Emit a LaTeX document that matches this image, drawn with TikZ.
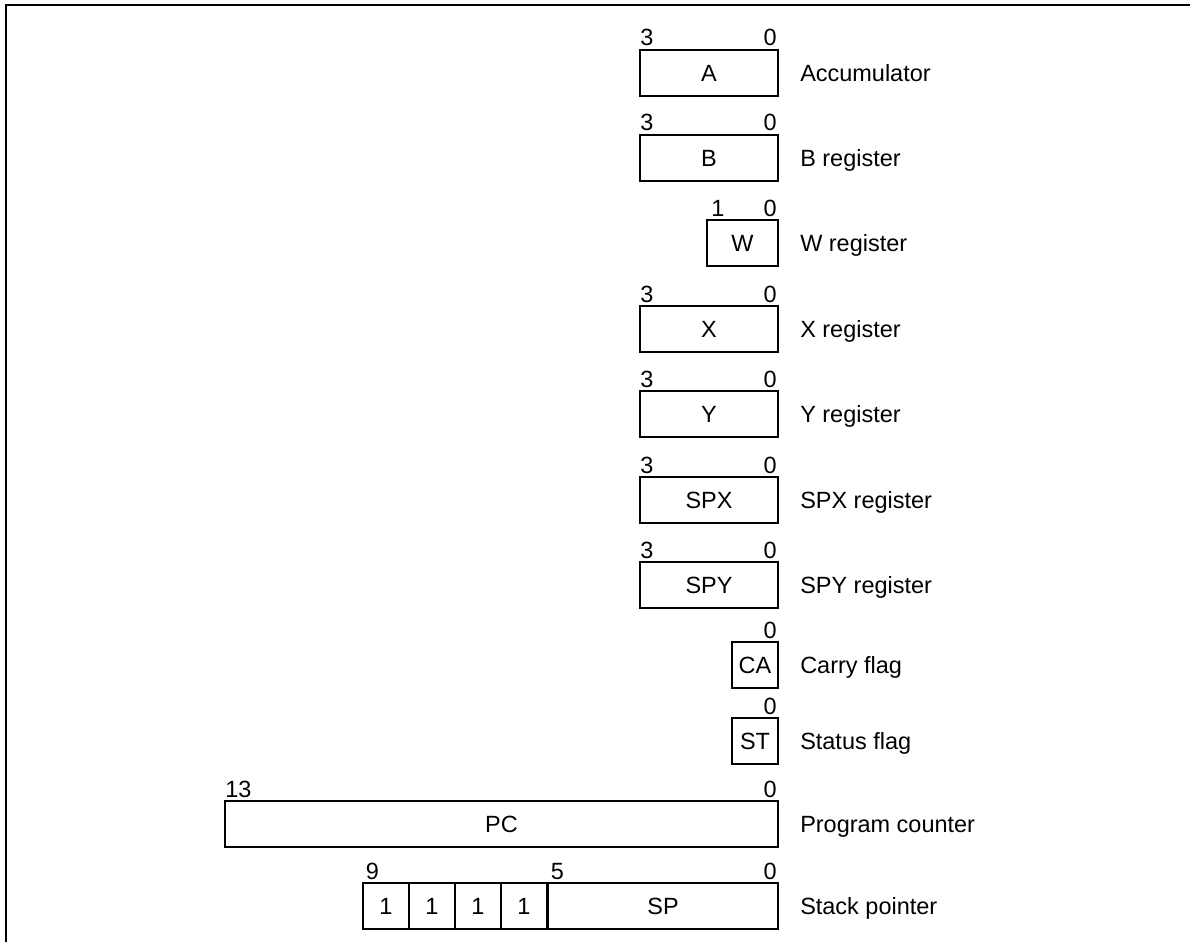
\documentclass[tikz,border=0pt]{standalone}
\usepackage{fontspec}
\setmainfont{Liberation Sans}
\begin{document}
\begin{tikzpicture}[x=0.75pt,y=-0.75pt,
  font=\fontsize{17.6}{21}\selectfont,
  reg/.style={draw, line width=0.8pt, inner sep=0pt, outer sep=0pt, minimum height=34.5pt, anchor=north east},
  cell/.style={draw, line width=0.8pt, inner sep=0pt, outer sep=0pt, minimum height=34.5pt, minimum width=34.5pt, anchor=north west},
  bitl/.style={inner sep=0pt, anchor=base west},
  bitr/.style={inner sep=0pt, anchor=base east},
  desc/.style={inner sep=0pt, anchor=base west}]
\useasboundingbox (0,0) rectangle (1190,942);
\draw[line width=1pt] (6,942) -- (6,5) -- (1190,5);

% A
\node[reg, minimum width=103.5pt] (A) at (778,50) {A};
\node[bitl] (A3) at ([yshift=3pt]A.north west) {3};
\node[bitr] (A0) at ([xshift=-0.75pt,yshift=3pt]A.north east) {0};
\node[desc] (lA) at (800,81.5) {Accumulator};
% B
\node[reg, minimum width=103.5pt] (B) at (778,135) {B};
\node[bitl] (B3) at ([yshift=3pt]B.north west) {3};
\node[bitr] (B0) at ([xshift=-0.75pt,yshift=3pt]B.north east) {0};
\node[desc] (lB) at (800,166.5) {B register};
% W
\node[reg, minimum width=53.25pt] (W) at (778,220) {W};
\node[bitl] (W1) at ([xshift=3pt,yshift=3pt]W.north west) {1};
\node[bitr] (W0) at ([xshift=-0.75pt,yshift=3pt]W.north east) {0};
\node[desc] (lW) at (800,251.5) {W register};
% X
\node[reg, minimum width=103.5pt] (X) at (778,306) {X};
\node[bitl] (X3) at ([yshift=3pt]X.north west) {3};
\node[bitr] (X0) at ([xshift=-0.75pt,yshift=3pt]X.north east) {0};
\node[desc] (lX) at (800,337.5) {X register};
% Y
\node[reg, minimum width=103.5pt] (Y) at (778,391) {Y};
\node[bitl] (Y3) at ([yshift=3pt]Y.north west) {3};
\node[bitr] (Y0) at ([xshift=-0.75pt,yshift=3pt]Y.north east) {0};
\node[desc] (lY) at (800,422.5) {Y register};
% SPX
\node[reg, minimum width=103.5pt] (SPX) at (778,477) {SPX};
\node[bitl] (SPX3) at ([yshift=3pt]SPX.north west) {3};
\node[bitr] (SPX0) at ([xshift=-0.75pt,yshift=3pt]SPX.north east) {0};
\node[desc] (lSPX) at (800,508.5) {SPX register};
% SPY
\node[reg, minimum width=103.5pt] (SPY) at (778,562) {SPY};
\node[bitl] (SPY3) at ([yshift=3pt]SPY.north west) {3};
\node[bitr] (SPY0) at ([xshift=-0.75pt,yshift=3pt]SPY.north east) {0};
\node[desc] (lSPY) at (800,593.5) {SPY register};
% CA
\node[reg, minimum width=34.5pt] (CA) at (778,642) {CA};
\node[bitr] (CA0) at ([xshift=-0.75pt,yshift=3pt]CA.north east) {0};
\node[desc] (lCA) at (800,673.5) {Carry flag};
% ST
\node[reg, minimum width=34.5pt] (ST) at (778,718) {ST};
\node[bitr] (ST0) at ([xshift=-0.75pt,yshift=3pt]ST.north east) {0};
\node[desc] (lST) at (800,749.5) {Status flag};
% PC
\node[reg, minimum width=414.75pt] (PC) at (778,801) {PC};
\node[bitl] (PC13) at ([yshift=3pt]PC.north west) {13};
\node[bitr] (PC0) at ([xshift=-0.75pt,yshift=3pt]PC.north east) {0};
\node[desc] (lPC) at (800,832.5) {Program counter};
% SP
\node[cell] (c1) at (363,883) {1};
\node[cell] (c2) at (c1.north east) {1};
\node[cell] (c3) at (c2.north east) {1};
\node[cell] (c4) at (c3.north east) {1};
\node[reg, minimum width=172.5pt] (SP) at (778,883) {SP};
\node[bitl] (SP9) at ([xshift=2pt,yshift=3pt]c1.north west) {9};
\node[bitl] (SP5) at ([xshift=2pt,yshift=3pt]SP.north west) {5};
\node[bitr] (SP0) at ([xshift=-0.75pt,yshift=3pt]SP.north east) {0};
\node[desc] (lSP) at (800,914.5) {Stack pointer};
\end{tikzpicture}
\end{document}
